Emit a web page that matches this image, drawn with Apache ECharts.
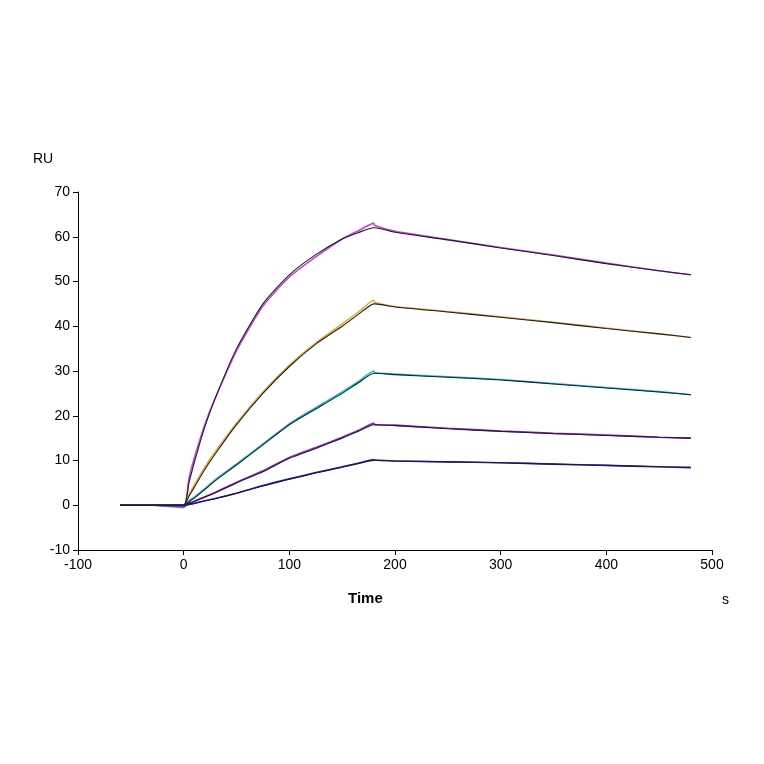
<!DOCTYPE html>
<html>
<head>
<meta charset="utf-8">
<script src="https://cdn.jsdelivr.net/npm/echarts@6/dist/echarts.min.js"></script>
<style>html,body{margin:0;background:#fff}#chart-box{width:764px;height:764px}</style>
</head>
<body>
<div id="chart-box"></div>
<script>
// time points (s)
var times = [-60, -30, 0, 5, 10, 20, 30, 50, 75, 100, 125, 150, 165, 180, 181, 200, 250, 300, 350, 400, 450, 480];

// measured responses (RU)
var data1 = [0, 0, 0, 6, 10.5, 18, 24, 34.5, 44.5, 51, 55.5, 59.5, 61.3, 63, 62.5, 61.2, 59.4, 57.6, 55.9, 54.1, 52.4, 51.5];
var data2 = [0, 0, 0, 2.5, 4.5, 8.5, 12, 18.3, 25.3, 31.3, 36.3, 40.5, 43.1, 45.8, 45.3, 44.4, 43.3, 42.1, 40.9, 39.6, 38.3, 37.5];
var data3 = [0, 0, -0.5, 1, 1.8, 3.7, 5.7, 9.2, 13.7, 18.2, 21.8, 25.3, 27.6, 30, 29.6, 29.3, 28.7, 28.1, 27.2, 26.3, 25.4, 24.7];
var data4 = [0, 0, -0.3, 0.5, 0.9, 1.9, 2.9, 5.1, 7.7, 10.7, 12.9, 15.2, 16.7, 18.3, 18, 17.9, 17.2, 16.6, 16.1, 15.7, 15.2, 15];
var data5 = [0, 0, 0, 0.2, 0.4, 1, 1.5, 2.7, 4.4, 5.9, 7.3, 8.6, 9.4, 10.2, 10.1, 9.9, 9.7, 9.5, 9.2, 8.9, 8.6, 8.4];

// fitted curves (RU)
var fit1 = [0, 0, 0, 5, 9.5, 17.5, 24, 35, 45, 51.5, 56, 59.5, 60.9, 62, 62, 61, 59.3, 57.5, 55.8, 54, 52.4, 51.5];
var fit2 = [0, 0, 0, 2, 4, 8, 11.5, 18, 25, 31, 36, 40, 42.6, 45, 45, 44.3, 43.2, 42, 40.8, 39.5, 38.3, 37.5];
var fit3 = [0, 0, 0, 0.8, 1.6, 3.5, 5.5, 9, 13.5, 18, 21.5, 25, 27.3, 29.5, 29.5, 29.2, 28.6, 28, 27.1, 26.2, 25.3, 24.7];
var fit4 = [0, 0, 0, 0.4, 0.8, 1.8, 2.8, 5, 7.5, 10.5, 12.7, 15, 16.5, 18, 18, 17.8, 17.1, 16.5, 16, 15.6, 15.2, 15];
var fit5 = [0, 0, 0, 0.2, 0.4, 1, 1.5, 2.7, 4.3, 5.8, 7.2, 8.5, 9.3, 10, 10, 9.9, 9.7, 9.5, 9.2, 8.9, 8.6, 8.5];

var dataColors = ['#d040d0', '#e8b030', '#20c0c0', '#a020c0', '#2020c0'];
var fitColor = '#1c1c3c';

function pairs(v) {
	return times.map(function(t, i) { return [t, v[i]]; });
}

var series = [];
[data1, data2, data3, data4, data5].forEach(function(d, i) {
	series.push({ type: 'line', data: pairs(d), symbol: 'none', smooth: 0.2,
		lineStyle: { color: dataColors[i], width: 1.6 }, z: 2 });
});
[fit1, fit2, fit3, fit4, fit5].forEach(function(d) {
	series.push({ type: 'line', data: pairs(d), symbol: 'none', smooth: 0.2,
		lineStyle: { color: fitColor, width: 1.1 }, z: 3 });
});

var myChart = echarts.init(document.getElementById('chart-box'));
var axisText = { color: '#000', fontSize: 14, fontFamily: 'Liberation Sans' };
myChart.setOption({
	animation: false,
	grid: { left: 78, right: 52, top: 192, bottom: 214 },
	xAxis: {
		type: 'value', min: -100, max: 500, interval: 100,
		axisLine: { onZero: false, lineStyle: { color: '#000' } },
		axisTick: { lineStyle: { color: '#000' }, length: 5 },
		axisLabel: axisText,
		splitLine: { show: false }
	},
	yAxis: {
		type: 'value', min: -10, max: 70, interval: 10,
		axisLine: { show: true, onZero: false, lineStyle: { color: '#000' } },
		axisTick: { show: true, lineStyle: { color: '#000' }, length: 5 },
		axisLabel: axisText,
		splitLine: { show: false }
	},
	graphic: [
		{ type: 'text', left: 33, top: 152, style: { text: 'RU', fill: '#000', font: '14px Liberation Sans' } },
		{ type: 'text', left: 348, top: 591, style: { text: 'Time', fill: '#000', font: 'bold 15px Liberation Sans' } },
		{ type: 'text', left: 722, top: 593, style: { text: 's', fill: '#000', font: '14px Liberation Sans' } }
	],
	series: series
});
</script>
</body>
</html>
